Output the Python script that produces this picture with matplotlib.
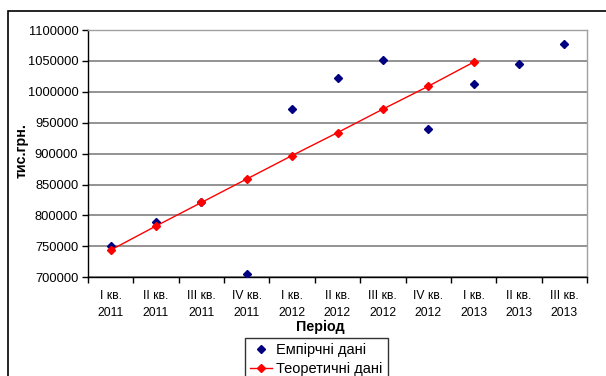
import matplotlib
matplotlib.use("Agg")
import matplotlib.pyplot as plt
from matplotlib.patches import Rectangle
import numpy as np

plt.rcParams['font.family'] = ['Liberation Sans', 'DejaVu Sans']

periods = ["I кв.\n2011", "II кв.\n2011", "III кв.\n2011", "IV кв.\n2011",
           "I кв.\n2012", "II кв.\n2012", "III кв.\n2012", "IV кв.\n2012",
           "I кв.\n2013", "II кв.\n2013", "III кв.\n2013"]
empirical = [751000, 790000, 821000, 706000, 972000, 1023000,
             1051000, 940000, 1013000, 1045000, 1078000]
theoretical = [744000, 783000, 821000, 859000, 897000, 934000,
               972000, 1009000, 1048000]
y_ticks = list(range(700000, 1100001, 50000))

fig = plt.figure(figsize=(6.06, 3.76), dpi=100)
ax = fig.add_axes([88 / 606, 1 - 277.3 / 376, 499 / 606, 247.3 / 376])

x = np.arange(len(periods))
ax.plot(x, empirical, linestyle='none', marker='D', markersize=4.5,
        color='#000080', label='Емпірчні дані', zorder=3)
ax.plot(x[:len(theoretical)], theoretical, color='#ff0000', linewidth=1,
        marker='D', markersize=4.5, label='Теоретичні дані', zorder=4)

ax.set_xlim(-0.5, len(periods) - 0.5)
ax.set_ylim(y_ticks[0], y_ticks[-1])
ax.set_yticks(y_ticks)
ax.set_yticklabels([str(v) for v in y_ticks])
ax.yaxis.grid(True, color='#808080', linewidth=1.2)
ax.set_axisbelow(True)

ax.set_xticks(x)
ax.set_xticklabels(periods, linespacing=1.55)
ax.set_xticks(np.arange(-0.5, len(periods)), minor=True)
ax.tick_params(axis='x', which='major', length=0, pad=9, labelsize=8.7,
               colors='#000000')
ax.tick_params(axis='x', which='minor', length=4, width=1, direction='out')
ax.tick_params(axis='y', length=4, width=1, direction='out', labelsize=9.3,
               pad=3)

for side in ('left', 'bottom'):
    ax.spines[side].set_color('#000000')
    ax.spines[side].set_linewidth(1)
for side in ('right', 'top'):
    ax.spines[side].set_color('#a0a0a0')
    ax.spines[side].set_linewidth(1)

fig.text(320.5 / 606, 1 - 327 / 376, 'Період', ha='center', va='center',
         fontsize=10.3, fontweight='bold')
fig.text(22 / 606, 1 - 151 / 376, 'тис.грн.', ha='center', va='center',
         rotation=90, fontsize=10.3, fontweight='bold')

# outer chart border
fig.patches.append(Rectangle((8 / 606, -0.2), 1.2, 1 - 11 / 376 + 0.2,
                             transform=fig.transFigure, fill=False,
                             edgecolor='#000000', linewidth=1.2))

leg = fig.legend(loc='upper left', bbox_to_anchor=(245 / 606, 1 - 338 / 376),
                 fontsize=10.5, frameon=True, fancybox=False, borderpad=0.35,
                 handlelength=1.5, handletextpad=0.3, labelspacing=0.35,
                 borderaxespad=0)
leg.get_frame().set_edgecolor('#000000')
leg.get_frame().set_linewidth(1)

fig.savefig('out.png', dpi=100)
